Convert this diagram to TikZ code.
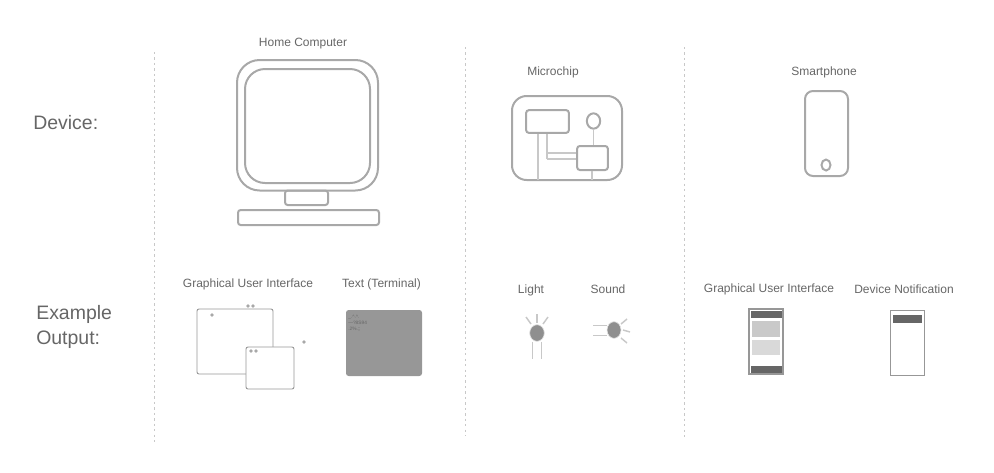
\documentclass[tikz,border=0pt]{standalone}
\usepackage{fontspec}
\setmainfont{Liberation Sans}
\usetikzlibrary{shapes.geometric}

\definecolor{labelgray}{HTML}{666666}
\definecolor{framegray}{HTML}{A8A8A8}
\definecolor{wiregray}{HTML}{C8C8C8}
\definecolor{fillgray}{HTML}{8F8F8F}
\definecolor{bargray}{HTML}{666666}
\tikzset{
  devlabel/.style={text=labelgray, font=\fontsize{9pt}{10pt}\selectfont, inner sep=0pt},
  rowlabel/.style={text=labelgray, font=\fontsize{14.6pt}{18.4pt}\selectfont, inner sep=0pt, anchor=west, align=left},
  frameline/.style={draw=framegray, line width=1.5pt},
  thinframe/.style={draw=framegray!90!black, line width=0.7pt},
  wire/.style={draw=wiregray, line width=1.1pt},
  column/.style={draw=wiregray, line width=0.6pt, dash pattern=on 1.7pt off 2.4pt},
  windot/.style={fill=framegray, draw=none},
  lamp/.style={fill=fillgray, draw=wiregray!50, line width=0.5pt},
  termtext/.style={text=bargray, font=\fontsize{3.6pt}{4.4pt}\selectfont, inner sep=0pt, anchor=north west, align=left},
}

\begin{document}
\begin{tikzpicture}[x=0.75pt, y=-0.75pt]
        \useasboundingbox (0, 0) rectangle (994, 472);

        % column separators
        \draw[column] (154, 52) -- (154, 445);
        \draw[column] (465, 47) -- (465, 436);
        \draw[column] (684, 47) -- (684, 437);

        % row labels
        \node[rowlabel] (device) at (33, 122.5) {Device:};
        \node[rowlabel] (output) at (36, 327) {Example\\Output:};

        % home computer
        \node[devlabel] (computer) at (303, 44) {Home Computer};
        \draw[frameline, rounded corners=17pt] (237, 60) rectangle (378, 190.5);
        \draw[frameline, rounded corners=15pt] (245, 69) rectangle (370, 183);
        \draw[frameline, rounded corners=2pt] (285, 190.5) rectangle (328, 205);
        \draw[frameline, rounded corners=2pt] (238, 210) rectangle (379, 225);

        % microchip
        \node[devlabel] (microchip) at (553, 72) {Microchip};
        \draw[frameline, rounded corners=11pt] (512, 96) rectangle (622, 180);
        \node[frameline, rounded corners=2pt, minimum width=32pt, minimum height=17pt] (chipa) at (547.5, 121.5) {};
        \node[frameline, rounded corners=2pt, minimum width=23pt, minimum height=18pt] (chipb) at (592.5, 158) {};
        \node[frameline, ellipse, inner sep=0pt, minimum width=10pt, minimum height=11.5pt] (chipc) at (593.5, 121) {};
        \coordinate (pina) at (538, 180);
        \coordinate (pinb) at (592, 180);
        \coordinate (busa) at (547, 153);
        \coordinate (busb) at (547, 159);
        \draw[wire] (pina |- chipa.south) -- (pina);
        \draw[wire] (busa |- chipa.south) -- (busb);
        \draw[wire] (busa) -- (busa -| chipb.west);
        \draw[wire] (busb) -- (busb -| chipb.west);
        \draw[wire] (chipc.south) -- (chipc.south |- chipb.north);
        \draw[wire] (pinb |- chipb.south) -- (pinb);

        % smartphone
        \node[devlabel] (smartphone) at (824, 72) {Smartphone};
        \draw[frameline, rounded corners=6pt] (805, 91) rectangle (848, 176);
        \draw[frameline] (826, 165) ellipse (4.5 and 5.5);

        % gui windows
        \node[devlabel] (guilabel) at (248, 284) {Graphical User Interface};
        \draw[thinframe, rounded corners=1.5pt] (197, 309) rectangle (273, 374);
        \draw[thinframe, fill=white, rounded corners=1.5pt] (246, 347) rectangle (294, 389);
        \foreach \dx/\dy in {212/315, 248/306, 253/306, 251/351, 256/351, 304/342}
          \fill[windot] (\dx, \dy) circle (1.9);

        % terminal
        \node[devlabel] (termlabel) at (381.5, 284) {Text (Terminal)};
        \fill[fill=framegray!90!black, rounded corners=2pt] (346, 310) rectangle (422, 376);
        \node[termtext] (termtext) at (348, 315) {\_.\textasciicircum.\textasciicircum.\\---?8S94\\.2\%.;;};

        % light
        \node[devlabel] (lightlabel) at (531, 290) {Light};
        \node[lamp, ellipse, inner sep=0pt, minimum width=11pt, minimum height=12.5pt] (lighta) at (537, 333) {};
        \coordinate (lightl) at (532, 359);
        \coordinate (lightr) at (541, 359);
        \draw[wire, line width=0.7pt] (lightl |- lighta.south) -- (lightl);
        \draw[wire, line width=0.7pt] (lightr |- lighta.south) -- (lightr);
        \draw[wire] (537, 314) -- (537, 323);
        \draw[wire] (526, 317) -- (531, 324);
        \draw[wire] (548, 317) -- (543, 324);

        % sound
        \node[devlabel] (soundlabel) at (608, 289.5) {Sound};
        \node[lamp, ellipse, inner sep=0pt, minimum width=10.5pt, minimum height=12.5pt] (sounda) at (614, 330) {};
        \coordinate (soundt) at (593, 325);
        \coordinate (soundb) at (593, 335);
        \draw[wire, line width=0.7pt] (soundt) -- (soundt -| sounda.west);
        \draw[wire, line width=0.7pt] (soundb) -- (soundb -| sounda.west);
        \draw[wire] (621, 324) -- (627, 319);
        \draw[wire] (623, 330) -- (630, 332);
        \draw[wire] (621, 338) -- (627, 343);

        % phone gui
        \node[devlabel] (phonegui) at (769, 289) {Graphical User Interface};
        \draw[thinframe, line width=0.9pt] (749, 309) rectangle (783, 374);
        \fill[bargray] (750.5, 311) rectangle (781.5, 318);
        \fill[bargray] (750.5, 366) rectangle (781.5, 373);
        \fill[black!21] (752, 321) rectangle (780, 337);
        \fill[black!15] (752, 340) rectangle (780, 355);

        % notification
        \node[devlabel] (notify) at (904, 289) {Device Notification};
        \draw[thinframe] (890, 310) rectangle (924, 375);
        \fill[bargray] (893, 315) rectangle (922, 323);
      \end{tikzpicture}
\end{document}
